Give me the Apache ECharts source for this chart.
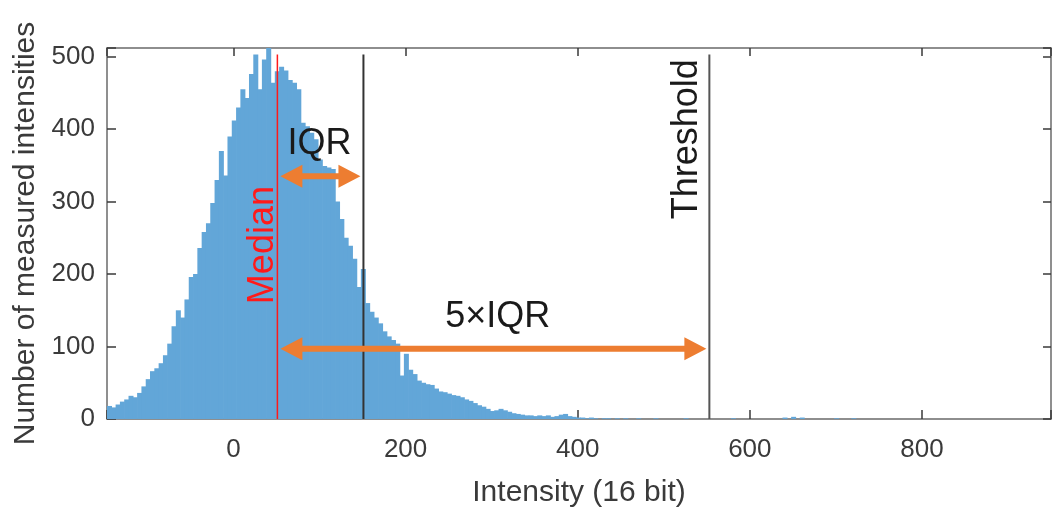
<!DOCTYPE html>
<html>
<head>
<meta charset="utf-8">
<script src="https://cdn.jsdelivr.net/npm/echarts@6/dist/echarts.min.js"></script>
<style>
  html, body { margin: 0; padding: 0; background: #ffffff; }
  #chart { width: 1054px; height: 513px; }
</style>
</head>
<body>
<div id="chart"></div>
<script>
// ---- data ----
const binStart = -147;
const binWidth = 5;
const counts = [
  18,16,20,24,27,32,30,36,45,55,
  66,70,77,88,104,128,150,140,165,196,
  200,236,258,270,298,330,370,336,390,412,
  430,455,443,476,503,455,496,512,464,480,
  486,481,468,464,455,409,404,395,386,358,
  349,347,345,300,276,250,239,221,182,207,
  160,148,140,132,121,114,109,104,60,90,
  68,62,53,50,48,47,42,38,37,35,
  33,32,30,27,25,22,19,17,14,11,
  12,14,12,10,8,7,6,5,5,4,
  5,4,5,3,4,6,7,4,3,2,
  2,1,2,1,0,1,1,0,1,0,
  1,0,0,1,0,0,0,1,0,0,
  0,0,0,0,1,0,0,0,0,0,
  0,0,0,0,0,1,0,0,0,0,
  0,0,0,0,0,0,0,2,0,3,
  0,2,0,0,0,0,0,0,0,1,
  0,0,0,1
];
const xTicks = [0, 200, 400, 600, 800];
const yTicks = [0, 100, 200, 300, 400, 500];
const xMin = -147, xMax = 950;
const yMin = 0, yMax = 512;

const medianValue = 51;
const iqrUpper = 151;
const thresholdValue = 553;
const lineTop = 503;

// arrows: [from, to, level]
const arrows = [
  [medianValue, iqrUpper, 335],
  [medianValue, thresholdValue, 97]
];
// annotation texts
const annTexts = ['IQR', '5×IQR', 'Median', 'Threshold'];
const annX = [100, 307, 34, 527];
const annY = [379, 141, 240, 386];
const annRot = [0, 0, 90, 90];
const annColor = ['#1a1a1a', '#1a1a1a', '#ff1a1a', '#1a1a1a'];

// ---- build ----
const FONT = "'Liberation Sans', Arial, Helvetica, sans-serif";
const histData = counts.map((c, i) => [binStart + i * binWidth, binStart + (i + 1) * binWidth, c]).filter(d => d[2] > 0);
const annData = annTexts.map((t, i) => [annX[i], annY[i], i]);

const chart = echarts.init(document.getElementById('chart'), null, { renderer: 'canvas' });

const axisLineStyle = { color: '#6a6a6a', width: 1.5 };
const tickStyle = { color: '#3a3a3a', width: 1.5 };
const tickLabelStyle = { color: '#3a3a3a', fontSize: 26, fontFamily: FONT };

const option = {
  backgroundColor: '#ffffff',
  animation: false,
  grid: { left: 107, right: 2, top: 48, bottom: 92, containLabel: false },
  xAxis: [
    {
      type: 'value', min: xMin, max: xMax, splitNumber: 5, position: 'bottom',
      axisLine: { show: true, onZero: false, lineStyle: axisLineStyle },
      axisTick: { show: true, inside: true, length: 9, lineStyle: tickStyle },
      axisLabel: { margin: 18, ...tickLabelStyle, formatter: v => xTicks.includes(v) ? String(v) : '' },
      splitLine: { show: false },
      name: 'Intensity (16 bit)', nameLocation: 'middle', nameGap: 59,
      nameTextStyle: { color: '#3a3a3a', fontSize: 30, fontFamily: FONT }
    },
    {
      type: 'value', min: xMin, max: xMax, splitNumber: 5, position: 'top',
      axisLine: { show: true, onZero: false, lineStyle: axisLineStyle },
      axisTick: { show: true, inside: true, length: 8, lineStyle: tickStyle },
      axisLabel: { show: false },
      splitLine: { show: false }
    }
  ],
  yAxis: [
    {
      type: 'value', min: yMin, max: yMax, interval: 100, position: 'left',
      axisLine: { show: true, onZero: false, lineStyle: axisLineStyle },
      axisTick: { show: true, inside: true, length: 9, lineStyle: tickStyle },
      axisLabel: { margin: 12, ...tickLabelStyle, formatter: v => yTicks.includes(v) ? String(v) : '' },
      splitLine: { show: false },
      name: 'Number of measured intensities', nameLocation: 'middle', nameGap: 66, nameRotate: 90,
      nameTextStyle: { color: '#3a3a3a', fontSize: 30, fontFamily: FONT }
    },
    {
      type: 'value', min: yMin, max: yMax, interval: 100, position: 'right',
      axisLine: { show: true, onZero: false, lineStyle: axisLineStyle },
      axisTick: { show: true, inside: true, length: 8, lineStyle: tickStyle },
      axisLabel: { show: false },
      splitLine: { show: false }
    }
  ],
  series: [
    {
      type: 'custom',
      name: 'hist',
      xAxisIndex: 0, yAxisIndex: 0,
      clip: true,
      encode: { x: [0, 1], y: 2 },
      data: histData,
      renderItem: function (params, api) {
        const p0 = api.coord([api.value(0), api.value(2)]);
        const p1 = api.coord([api.value(1), 0]);
        return {
          type: 'rect',
          shape: { x: p0[0], y: p0[1], width: p1[0] - p0[0] + 0.7, height: p1[1] - p0[1] },
          style: { fill: '#62a6d8' }
        };
      },
      z: 1
    },
    {
      type: 'line', name: 'median', symbol: 'none',
      data: [[medianValue, 0], [medianValue, lineTop]],
      lineStyle: { color: '#ff1a1a', width: 1.5 }, z: 3
    },
    {
      type: 'line', name: 'iqr', symbol: 'none',
      data: [[iqrUpper, 0], [iqrUpper, lineTop]],
      lineStyle: { color: '#333333', width: 2 }, z: 3
    },
    {
      type: 'line', name: 'threshold', symbol: 'none',
      data: [[thresholdValue, 0], [thresholdValue, lineTop]],
      lineStyle: { color: '#555555', width: 2 }, z: 3
    },
    {
      type: 'custom', name: 'arrows',
      data: arrows,
      encode: { x: [0, 1], y: 2 },
      renderItem: function (params, api) {
        const a = api.coord([api.value(0), api.value(2)]);
        const b = api.coord([api.value(1), api.value(2)]);
        const x1 = a[0] + 3, x2 = b[0] - 3, y = a[1];
        const hl = 22, hh = 11.5, t = 3;
        return {
          type: 'polygon',
          shape: { points: [
            [x1, y], [x1 + hl, y - hh], [x1 + hl, y - t], [x2 - hl, y - t], [x2 - hl, y - hh],
            [x2, y], [x2 - hl, y + hh], [x2 - hl, y + t], [x1 + hl, y + t], [x1 + hl, y + hh]
          ] },
          style: { fill: '#ed7d31' }
        };
      },
      z: 4
    },
    {
      type: 'custom', name: 'texts',
      data: annData,
      renderItem: function (params, api) {
        const p = api.coord([api.value(0), api.value(1)]);
        const i = api.value(2);
        return {
          type: 'text',
          x: p[0], y: p[1],
          rotation: annRot[i] * Math.PI / 180,
          style: {
            text: annTexts[i], fill: annColor[i],
            font: '36px ' + FONT, align: 'center', verticalAlign: 'middle'
          }
        };
      },
      z: 5
    }
  ]
};
chart.setOption(option);
</script>
</body>
</html>
